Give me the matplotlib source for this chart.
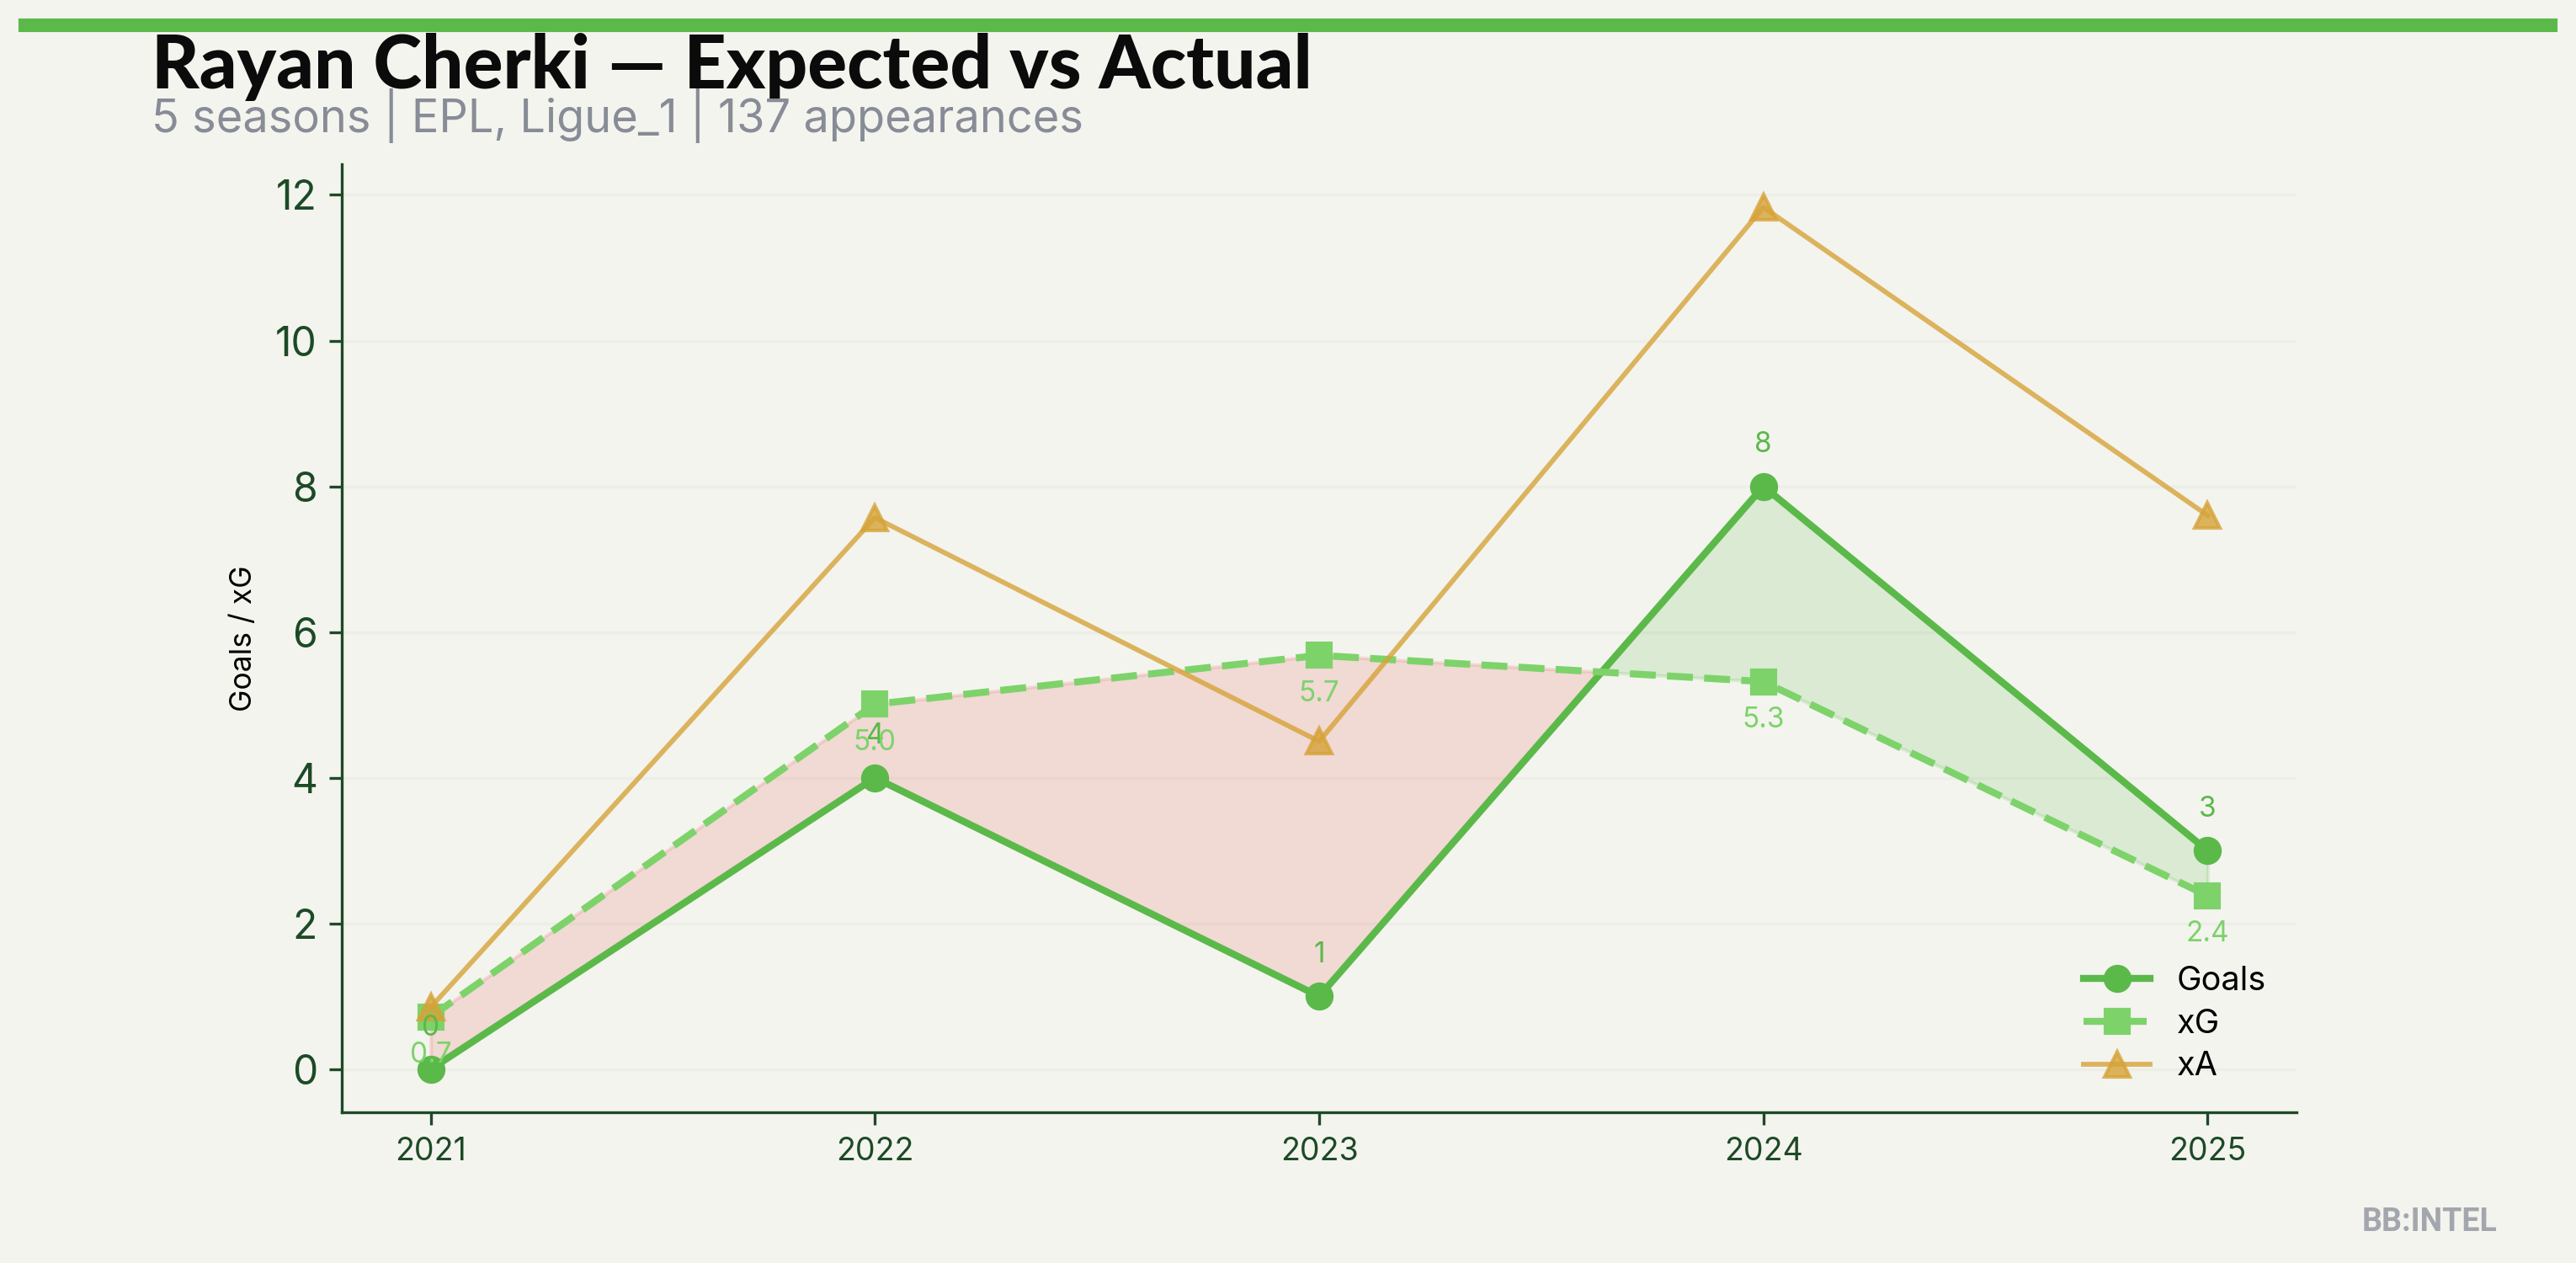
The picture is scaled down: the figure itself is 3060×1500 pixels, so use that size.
import matplotlib.pyplot as plt
from matplotlib.patches import Rectangle
import numpy as np

# Data
seasons = [2021, 2022, 2023, 2024, 2025]
goals = [0, 4, 1, 8, 3]
xg = [0.72, 5.01, 5.68, 5.32, 2.38]
xa = [0.85, 7.57, 4.5, 11.83, 7.6]

title = 'Rayan Cherki — Expected vs Actual'
subtitle = '5 seasons | EPL, Ligue_1 | 137 appearances'

# Colours
BG = '#F4F4EF'
GREEN = '#5BB94A'
LIGHT_GREEN = '#7DD36A'
GOLD = '#D6A338'
DARK = '#1D4A26'
RED_FILL = '#E8706A'

plt.rcParams['font.family'] = ['Inter', 'DejaVu Sans']

fig = plt.figure(figsize=(10.2, 5), dpi=300, facecolor=BG)
ax = fig.add_axes([0.1327, 0.1193, 0.7588, 0.7507])
ax.set_facecolor(BG)

s = np.array(seasons)
g = np.array(goals, dtype=float)
x = np.array(xg)

# Over / under performance bands
ax.fill_between(s, g, x, where=x >= g, interpolate=True, color=RED_FILL, alpha=0.2)
ax.fill_between(s, g, x, where=g >= x, interpolate=True, color=GREEN, alpha=0.17)

ax.plot(s, g, color=GREEN, lw=2, marker='o', ms=7, label='Goals')
ax.plot(s, x, color=LIGHT_GREEN, lw=2, ls='--', marker='s', ms=6.5, label='xG')
ax.plot(s, xa, color=GOLD, lw=1.4, marker='^', ms=7, alpha=0.8, label='xA')

# Value labels
for yr, v in zip(seasons, goals):
    ax.annotate(f'{v}', (yr, v), xytext=(0, 8), textcoords='offset points',
                ha='center', va='bottom', fontsize=8, color=GREEN)
for yr, v in zip(seasons, xg):
    ax.annotate(f'{v:.1f}', (yr, v), xytext=(0, -7), textcoords='offset points',
                ha='center', va='top', fontsize=8, color=LIGHT_GREEN)

# Axes styling
ax.set_xticks(seasons)
ax.set_xticklabels([str(yr) for yr in seasons])
ax.tick_params(axis='x', labelsize=9, colors=DARK)
ax.tick_params(axis='y', labelsize=11.5, colors=DARK)
for side in ['top', 'right']:
    ax.spines[side].set_visible(False)
for side in ['left', 'bottom']:
    ax.spines[side].set_color(DARK)
ax.yaxis.grid(True, color='#EEEEE8', lw=0.8)
ax.set_axisbelow(True)
ax.set_ylabel('Goals / xG', fontsize=8.5, color='black', labelpad=5)

ax.legend(loc='lower right', frameon=False, fontsize=9.5, labelspacing=0.35)

# Header
fig.patches.append(Rectangle((0.00784, 0.976), 0.9843, 0.008, transform=fig.transFigure,
                             color=GREEN, zorder=5))
fig.text(0.0588, 0.93, title, fontsize=21, fontweight='black', family=['Lato', 'DejaVu Sans'],
         color='#0B0B0B', va='baseline', ha='left')
fig.text(0.0588, 0.8953, subtitle, fontsize=13, color='#878C96', va='baseline', ha='left')

# Watermark
fig.text(0.9696, 0.0253, 'BB:INTEL', fontsize=9, fontweight='bold', family=['Roboto', 'DejaVu Sans'],
         color='#A3A6AD', ha='right', va='baseline')

fig.savefig('out.png', dpi=300, facecolor=BG)
